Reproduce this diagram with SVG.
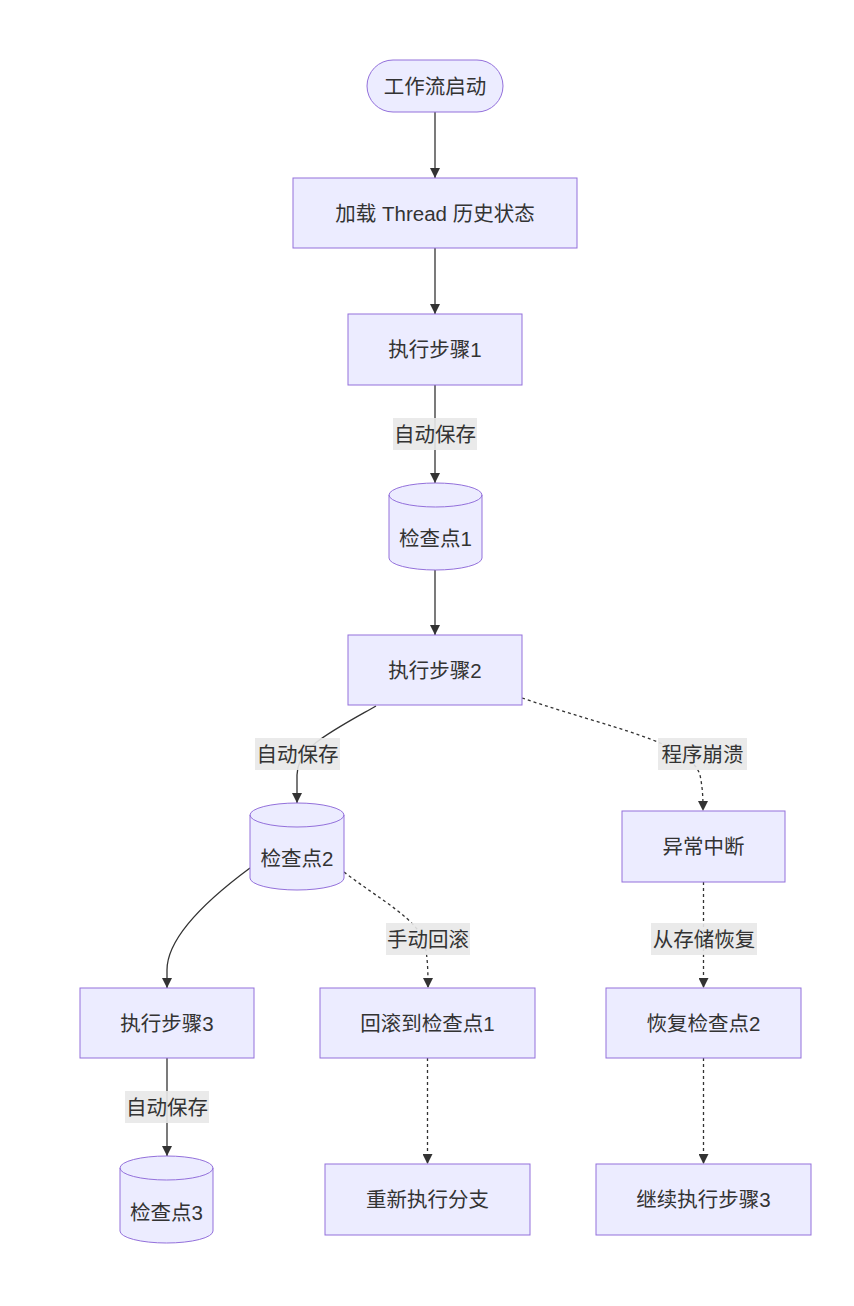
<svg xmlns="http://www.w3.org/2000/svg" width="854" height="1306" viewBox="0 0 854 1306">
<style>
.n{fill:#ECECFF;stroke:#9370DB;stroke-width:1}
.t{font-family:"Liberation Sans","Noto Sans CJK SC",sans-serif;font-size:20.5px;fill:#333333;text-anchor:middle;dominant-baseline:central}
.e{fill:none;stroke:#333333;stroke-width:1.3}
.d{fill:none;stroke:#333333;stroke-width:1.3;stroke-dasharray:3 3}
.lb{fill:#E8E8E8;opacity:0.9}
</style>
<defs>
<marker id="ah" viewBox="0 0 10 10" refX="10" refY="5" markerWidth="10" markerHeight="10" markerUnits="userSpaceOnUse" orient="auto">
<path d="M0,0 L10,5 L0,10 z" fill="#333333"/>
</marker>
</defs>
<rect width="854" height="1306" fill="#ffffff"/>
<g id="edges">
<path class="e" d="M435,112 L435,178" marker-end="url(#ah)"/>
<path class="e" d="M435,248 L435,314" marker-end="url(#ah)"/>
<path class="e" d="M435,385 L435,483" marker-end="url(#ah)"/>
<path class="e" d="M435,570 L435,635" marker-end="url(#ah)"/>
<path class="e" d="M376,706 C330,732 297,748 297,775 L297,803" marker-end="url(#ah)"/>
<path class="d" d="M522,698 C610,728 690,742 700,775 C703,790 703,800 703,811" marker-end="url(#ah)"/>
<path class="e" d="M250,868 C200,905 167,940 167,970 L167,988" marker-end="url(#ah)"/>
<path class="d" d="M344,872 C380,900 420,920 425,945 C428,960 428,975 428,988" marker-end="url(#ah)"/>
<path class="d" d="M703.5,882 L703.5,988" marker-end="url(#ah)"/>
<path class="e" d="M167,1058 L167,1156" marker-end="url(#ah)"/>
<path class="d" d="M427.5,1058 L427.5,1164" marker-end="url(#ah)"/>
<path class="d" d="M703.5,1058 L703.5,1164" marker-end="url(#ah)"/>
<g id="edge-labels">
<rect class="lb" x="393" y="418" width="84" height="32"/>
<text class="t" x="435" y="434">自动保存</text>
<rect class="lb" x="255" y="738" width="85" height="32"/>
<text class="t" x="297.5" y="754">自动保存</text>
<rect class="lb" x="658" y="738" width="89" height="32"/>
<text class="t" x="702.5" y="754">程序崩溃</text>
<rect class="lb" x="386" y="923" width="84" height="32"/>
<text class="t" x="428" y="939">手动回滚</text>
<rect class="lb" x="651" y="923" width="106" height="32"/>
<text class="t" x="704" y="939">从存储恢复</text>
<rect class="lb" x="125" y="1091" width="84" height="32"/>
<text class="t" x="167" y="1107">自动保存</text>
</g>
</g>
<g id="start">
<rect class="n" x="367" y="60" width="136" height="52" rx="26" ry="26"/>
<text class="t" x="435" y="86">工作流启动</text>
</g>
<g id="load">
<rect class="n" x="293" y="178" width="284" height="70"/>
<text class="t" x="435" y="213">加载 Thread 历史状态</text>
</g>
<g id="step1">
<rect class="n" x="348" y="314" width="174" height="71"/>
<text class="t" x="435" y="349.5">执行步骤1</text>
</g>
<g id="cp1">
<path class="n" d="M389,495 a46.5,12 0 0,0 93,0 a46.5,12 0 0,0 -93,0 l0,63 a46.5,12 0 0,0 93,0 l0,-63"/>
<text class="t" x="435.5" y="538">检查点1</text>
</g>
<g id="step2">
<rect class="n" x="348" y="635" width="174" height="70"/>
<text class="t" x="435" y="670">执行步骤2</text>
</g>
<g id="cp2">
<path class="n" d="M250,815 a47,12 0 0,0 94,0 a47,12 0 0,0 -94,0 l0,63 a47,12 0 0,0 94,0 l0,-63"/>
<text class="t" x="297" y="858">检查点2</text>
</g>
<g id="crash">
<rect class="n" x="622" y="811" width="163" height="71"/>
<text class="t" x="703.5" y="846.5">异常中断</text>
</g>
<g id="step3">
<rect class="n" x="80" y="988" width="174" height="70"/>
<text class="t" x="167" y="1023">执行步骤3</text>
</g>
<g id="rollback">
<rect class="n" x="320" y="988" width="215" height="70"/>
<text class="t" x="427.5" y="1023">回滚到检查点1</text>
</g>
<g id="restore">
<rect class="n" x="606" y="988" width="195" height="70"/>
<text class="t" x="703.5" y="1023">恢复检查点2</text>
</g>
<g id="cp3">
<path class="n" d="M120,1168 a46.5,12 0 0,0 93,0 a46.5,12 0 0,0 -93,0 l0,63 a46.5,12 0 0,0 93,0 l0,-63"/>
<text class="t" x="166.5" y="1212">检查点3</text>
</g>
<g id="rerun">
<rect class="n" x="325" y="1164" width="205" height="71"/>
<text class="t" x="427.5" y="1199.5">重新执行分支</text>
</g>
<g id="continue">
<rect class="n" x="596" y="1164" width="215" height="71"/>
<text class="t" x="703.5" y="1199.5">继续执行步骤3</text>
</g>
</svg>
